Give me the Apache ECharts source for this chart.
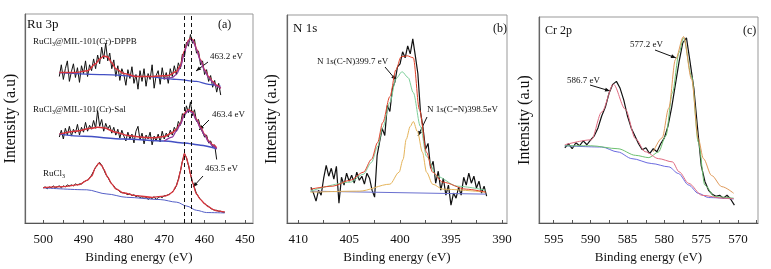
<!DOCTYPE html>
<html>
<head>
<meta charset="utf-8">
<script src="https://cdn.jsdelivr.net/npm/echarts@6/dist/echarts.min.js"></script>
<style>
  html, body { margin: 0; padding: 0; background: #fff; }
  #chart { width: 771px; height: 269px; }
</style>
</head>
<body>
<div id="chart"></div>
<script>
// ---- (a) Ru 3p ----
var ruE = [496, 495.5, 495, 494.5, 494, 493.5, 493, 492.5, 492, 491.5,
  491, 490.5, 490, 489.5, 489, 488.5, 488, 487.5, 487, 486.5,
  486, 485.5, 485, 484.5, 484, 483.5, 483, 482.5, 482, 481.5,
  481, 480.5, 480, 479.5, 479, 478.5, 478, 477.5, 477, 476.5,
  476, 475.5, 475, 474.5, 474, 473.5, 473, 472.5, 472, 471.5,
  471, 470.5, 470, 469.5, 469, 468.5, 468, 467.5, 467, 466.5,
  466, 465.5, 465, 464.5, 464, 463.5, 463, 462.5, 462, 461.5,
  461, 460.5, 460, 459.5, 459, 458.5, 458, 457.5, 457, 456.5,
  456]
var dppbRaw = [150, 162, 147, 158, 166, 145, 155, 163, 149, 159,
  144, 161, 153, 166, 150, 162, 156, 168, 158, 172,
  163, 180, 168, 184, 166, 174, 158, 167, 150, 161,
  146, 158, 152, 141, 157, 148, 160, 143, 152, 137,
  156, 145, 158, 140, 153, 147, 162, 138, 151, 156,
  142, 159, 147, 154, 143, 158, 150, 161, 152, 164,
  158, 173, 170, 185, 181, 193, 184, 188, 174, 176,
  162, 166, 152, 157, 145, 151, 139, 146, 134, 143,
  131]
var dppbFitE = [496, 492, 489, 487, 486, 485, 484, 483, 482, 480, 477, 473, 469, 467, 466, 465, 464.5, 464, 463.5, 463, 462.5, 462, 461, 460, 459, 458, 457, 456]
var dppbFit = [154, 154, 156, 163, 168, 171, 170, 164, 158, 153, 150, 150, 151, 155, 161, 176, 182, 187, 189, 188, 184, 178, 167, 157, 150, 145, 141, 138]
var dppbPeakE = [470, 468, 467, 466, 465, 464.5, 464, 463.5, 463, 462.5, 462, 461, 460, 459, 458, 457, 456]
var dppbPeak = [148, 149, 152, 159, 174, 181, 186, 188, 187, 183, 177, 166, 156, 149, 144, 140, 138]
var dppbBaseE = [496, 485, 475, 467, 462, 459, 456]
var dppbBase = [154, 152, 150, 147, 145, 142, 140]

var salRaw = [88, 95, 86, 97, 90, 99, 89, 96, 92, 101,
  90, 98, 93, 103, 94, 100, 96, 105, 97, 115,
  99, 106, 94, 102, 96, 100, 92, 98, 90, 96,
  87, 95, 89, 84, 93, 86, 91, 82, 94, 99,
  85, 92, 81, 90, 86, 93, 80, 89, 84, 91,
  83, 94, 86, 92, 88, 95, 90, 98, 94, 104,
  100, 112, 108, 120, 113, 124, 110, 116, 104, 106,
  97, 93, 88, 90, 82, 84, 78, 80, 65]
var salFitE = [496, 492, 488, 486.5, 485, 482, 479, 476, 473, 470, 468, 467, 466, 465, 464, 463, 462, 461, 460, 459, 458, 457]
var salFit = [91, 94, 97, 98, 97.5, 93, 89.5, 88, 87.3, 88.5, 92.5, 96, 102, 112, 116, 114, 106, 98, 91, 84, 80, 77]
var salPeakE = [470, 468, 467, 466, 465, 464, 463, 462, 461, 460, 459, 458, 457]
var salPeak = [84, 88, 94, 101, 111, 115, 113, 105, 97, 90, 83, 79, 76]
var salBaseE = [496, 490, 480, 470, 465, 461, 457]
var salBase = [91, 88.7, 86, 84, 82, 79.7, 76]

var rucl3E = [500, 499.5, 499, 498.5, 498, 497.5, 497, 496.5, 496, 495.5,
  495, 494.5, 494, 493.5, 493, 492.5, 492, 491.5, 491, 490.5,
  490, 489.5, 489, 488.5, 488, 487.5, 487, 486.5, 486, 485.5,
  485, 484.5, 484, 483.5, 483, 482.5, 482, 481.5, 481, 480.5,
  480, 479.5, 479, 478.5, 478, 477.5, 477, 476.5, 476, 475.5,
  475, 474.5, 474, 473.5, 473, 472.5, 472, 471.5, 471, 470.5,
  470, 469.5, 469, 468.5, 468, 467.5, 467, 466.5, 466, 465.5,
  465, 464.5, 464, 463.5, 463, 462.5, 462, 461.5, 461, 460.5,
  460, 459.5, 459, 458.5, 458, 457.5, 457, 456.5, 456, 455.5,
  455]
var rucl3Raw = [36, 37, 35, 37, 36, 38, 36, 37, 38, 36,
  38, 37, 39, 38, 39, 38, 40, 39, 40, 40,
  42, 43, 44, 46, 49, 53, 57, 60, 62, 59,
  55, 50, 47, 43, 40, 38, 35, 34, 32, 31,
  31, 30, 29, 30, 28, 29, 27, 28, 26, 27,
  25, 27, 24, 26, 25, 27, 24, 26, 27, 26,
  28, 28, 29, 30, 32, 34, 38, 45, 53, 63,
  71, 67, 59, 50, 42, 36, 30, 27, 24, 22,
  20, 18, 17, 15, 14, 13, 13, 12, 12, 11,
  11]
var rucl3FitE = [500, 495, 491, 489, 488, 487, 486.2, 485.5, 485, 484, 483, 482, 480, 477, 473, 470, 469, 468, 467, 466.5, 466, 465.5, 465, 464.5, 464, 463.5, 463, 462, 461, 460, 459, 458, 457, 455]
var rucl3Fit = [36.3, 37.3, 39.3, 44, 48, 57, 61.3, 59, 55, 47, 40, 35, 30.7, 28, 26.3, 27.5, 28.7, 31.5, 38, 44, 53, 63, 71, 67, 59.7, 50, 41.3, 29.7, 24, 19.7, 16.5, 14, 12.5, 11.3]
var rucl3BaseE = [500, 489.2, 484.2, 479.3, 471, 466.9, 464.4, 462, 459.5, 455]
var rucl3Base = [36, 34, 29.7, 26.3, 24, 21.3, 17.3, 13, 10.7, 10.3]
var ruPeakLines = [465.0, 463.4]

// ---- (b) N 1s ----
var n1sE = [408.75, 408.5, 408.25, 408, 407.75, 407.5, 407.25, 407, 406.75, 406.5,
  406.25, 406, 405.75, 405.5, 405.25, 405, 404.75, 404.5, 404.25, 404,
  403.75, 403.5, 403.25, 403, 402.75, 402.5, 402.25, 402, 401.75, 401.5,
  401.25, 401, 400.75, 400.5, 400.25, 400, 399.75, 399.5, 399.25, 399,
  398.75, 398.5, 398.25, 398, 397.75, 397.5, 397.25, 397, 396.75, 396.5,
  396.25, 396, 395.75, 395.5, 395.25, 395, 394.75, 394.5, 394.25, 394,
  393.75, 393.5, 393.25, 393, 392.75, 392.5, 392.25, 392, 391.75, 391.5]
var n1sRaw = [36, 30, 22, 33, 28, 45, 58, 47, 55, 44,
  57, 20, 46, 38, 50, 42, 48, 40, 51, 43,
  47, 39, 50, 45, 33, 26, 68, 82, 95, 88,
  118, 112, 135, 142, 157, 160, 172, 166, 178, 170,
  185, 168, 150, 112, 96, 74, 80, 55, 62, 40,
  52, 33, 45, 28, 38, 18, 30, 25, 36, 28,
  46, 38, 50, 40, 47, 35, 42, 30, 37, 27]
var n1sFitE = [408.8, 406.6, 404.9, 403.6, 402.8, 402.2, 401.7, 401, 400.4, 399.9, 399.3, 398.7, 398.1, 397.4, 396.8, 395.8, 393.5, 391.6]
var n1sFit = [34, 37, 43, 51, 64, 81, 101, 127, 154, 167, 168, 166, 114, 71, 51, 41, 34, 31]
var cnE = [408.8, 404.9, 403.6, 402.8, 402.2, 401.7, 401, 400.4, 399.8, 399.2, 398.7, 398, 397.4, 396.4, 394.4, 391.6]
var cnFit = [32, 41, 49, 61, 77, 96, 121, 145, 152, 146, 131, 97, 67, 47, 37, 33]
var cdnE = [408.8, 404, 401.0, 400.1, 399.7, 399.4, 399.0, 398.7, 398.3, 397.8, 397.4, 396.8, 395.8, 391.6]
var cdnFit = [31, 32, 39, 51, 64, 84, 97, 102, 92, 71, 51, 39, 34, 31]
var n1sBaseE = [408.8, 391.6]
var n1sBase = [32, 29]

// ---- (c) Cr 2p ----
var crE = [593.5, 593, 592.5, 592, 591.5, 591, 590.5, 590, 589.5, 589,
  588.5, 588, 587.5, 587, 586.5, 586, 585.5, 585, 584.5, 584,
  583.5, 583, 582.5, 582, 581.5, 581, 580.5, 580, 579.5, 579,
  578.5, 578, 577.5, 577, 576.5, 576, 575.5, 575, 574.5, 574,
  573.5, 573, 572.5, 572, 571.5, 571, 570.5]
var crRaw = [76, 80, 75, 81, 78, 83, 79, 84, 88, 96,
  108, 117, 131, 140, 143, 136, 124, 108, 96, 88,
  80, 74, 76, 70, 75, 72, 80, 86, 98, 117,
  140, 163, 182, 187, 162, 136, 96, 58, 42, 33,
  29, 27, 28, 25, 28, 24, 18]
var crBaseE = [593.5, 588.5, 586.3, 584.4, 581.7, 579.4, 578.1, 576.7, 575.4, 574, 570.6]
var crBase = [78, 76.7, 71.7, 65, 60, 56.7, 50, 38.3, 30, 25.7, 24.3]
var cr2E = [593.5, 590, 586.3, 583.9, 582.1, 580.8, 579.8, 578.9, 578, 577.4, 576.3, 575.4, 574.5, 573.2, 570.6]
var cr2Fit = [78, 78, 75, 68.3, 66, 71.7, 88, 131.7, 172, 187, 148, 81.7, 38.3, 26.7, 25]
var cr1E = [593.5, 589.9, 588.5, 586.9, 585.3, 583.9, 582.6, 580.8, 578.9, 578, 576.7, 574.9, 572, 570.6]
var cr1Fit = [79, 84, 112, 140, 115, 85, 72, 65, 61.7, 51.7, 40, 28, 25, 24.5]
var crSumE = [581.5, 580.3, 579.4, 578.5, 577.4, 576.3, 575.4, 574.7, 573.6, 572.2, 570.6]
var crSum = [72, 86, 116, 165, 188.3, 145, 85, 65, 48, 36.7, 30]

var FONT = 'Liberation Serif'

// build [x, y] pairs, ascending in x so smoothing behaves
function pairs(xs, ys) {
  return ys.map(function (v, i) { return [xs[i], v] })
    .sort(function (a, b) { return a[0] - b[0] })
}
function curve(idx, xs, ys, color, smooth, width) {
  var s = {
    type: 'line',
    xAxisIndex: idx,
    yAxisIndex: idx,
    data: pairs(xs, ys),
    symbol: 'none',
    smooth: smooth ? 0.3 : false,
    lineStyle: { color: color, width: width || 1 },
    silent: true
  }
  if (smooth) s.smoothMonotone = 'x'
  return s
}
function arrow(x1, y1, x2, y2) {
  var a = Math.atan2(y2 - y1, x2 - x1), L = 5, W = 2
  var p1 = [x2 - L * Math.cos(a) + W * Math.sin(a), y2 - L * Math.sin(a) - W * Math.cos(a)]
  var p2 = [x2 - L * Math.cos(a) - W * Math.sin(a), y2 - L * Math.sin(a) + W * Math.cos(a)]
  return [
    { type: 'line', shape: { x1: x1, y1: y1, x2: x2, y2: y2 }, style: { stroke: '#111', lineWidth: 1 } },
    { type: 'polygon', shape: { points: [[x2, y2], p1, p2] }, style: { fill: '#111' } }
  ]
}
function label(x, y, text, size, align) {
  return {
    type: 'text',
    style: {
      x: x, y: y, text: text, fill: '#111',
      font: size + 'px "' + FONT + '"',
      align: align || 'left', verticalAlign: 'middle',
      rich: {
        t: { fontFamily: FONT, fontSize: size, fill: '#111' },
        s: { fontFamily: FONT, fontSize: size - 3, fill: '#111', padding: [4, 0, 0, 0] }
      }
    }
  }
}

function ticks(a, b, step) {
  var out = []
  for (var v = a; v <= b + 1e-6; v += step) out.push(v)
  return out
}
function xAxis(idx, min, max, labels, tickVals) {
  return {
    type: 'value', gridIndex: idx, inverse: true, min: min, max: max,
    name: 'Binding energy (eV)', nameLocation: 'middle', nameGap: 28,
    nameTextStyle: { fontFamily: FONT, fontSize: 13, color: '#111' },
    axisLine: { lineStyle: { color: '#555', width: 1.2 } },
    axisTick: { show: true, inside: true, length: 3, customValues: tickVals, lineStyle: { color: '#555' } },
    axisLabel: { customValues: labels, fontFamily: FONT, fontSize: 13, color: '#111', margin: 10 },
    splitLine: { show: false }
  }
}
function yAxis(idx, max, gap) {
  return {
    type: 'value', gridIndex: idx, min: 0, max: max,
    name: 'Intensity (a.u)', nameLocation: 'middle', nameGap: gap,
    nameTextStyle: { fontFamily: FONT, fontSize: 16, color: '#111' },
    axisLine: { show: true, lineStyle: { color: '#666', width: 1.2 } },
    axisTick: { show: false },
    axisLabel: { show: false },
    splitLine: { show: false }
  }
}

var chart = echarts.init(document.getElementById('chart'), null, { renderer: 'canvas' })

var red = '#d8343c', blue = '#4350c4', purple = '#8c3a9e'
var dashed = curve(0, rucl3E, rucl3Raw, '#111', false)
dashed.markLine = {
  silent: true, symbol: 'none', label: { show: false },
  lineStyle: { color: '#111', type: [4, 3], width: 1 },
  data: ruPeakLines.map(function (v) { return { xAxis: v } })
}

var graphic = [
  label(27, 25, 'Ru 3p', 13),
  label(218, 25, '(a)', 12),
  label(33, 42, '{t|RuCl}{s|3}{t|@MIL-101(Cr)-DPPB}', 9),
  label(210, 57, '463.2 eV', 9),
  label(33, 110, '{t|RuCl}{s|3}{t|@MIL-101(Cr)-Sal}', 9),
  label(212, 115, '463.4 eV', 9),
  label(43, 174, '{t|RuCl}{s|3}', 9),
  label(205, 169, '463.5 eV', 9),
  label(293, 29, 'N 1s', 13),
  label(493, 29, '(b)', 12),
  label(317, 62, 'N 1s(C-N)399.7 eV', 9),
  label(427, 110, 'N 1s(C=N)398.5eV', 9),
  label(545, 31, 'Cr 2p', 12),
  label(743, 31, '(c)', 12),
  label(630, 45, '577.2 eV', 9),
  label(567, 81, '586.7 eV', 9)
]
graphic = graphic
  .concat(arrow(208, 62, 196, 71))
  .concat(arrow(209, 120, 199, 130))
  .concat(arrow(203, 176, 193, 187))
  .concat(arrow(385, 67, 396, 80))
  .concat(arrow(427, 117, 418, 136))
  .concat(arrow(655, 50, 676, 58))
  .concat(arrow(590, 85, 610, 91))

var option = {
  animation: false,
  backgroundColor: '#fff',
  grid: [
    { left: 25, top: 14, width: 228, height: 214, show: true, borderColor: '#999', borderWidth: 1 },
    { left: 287, top: 15, width: 220, height: 209, show: true, borderColor: '#999', borderWidth: 1 },
    { left: 539, top: 17, width: 219, height: 208, show: true, borderColor: '#999', borderWidth: 1 }
  ],
  xAxis: [
    xAxis(0, 448, 504.5, ticks(450, 500, 10), ticks(450, 500, 5)),
    xAxis(1, 389.5, 411.1, ticks(390, 410, 5), ticks(390, 410, 2.5)),
    xAxis(2, 567.3, 597, ticks(570, 595, 5), ticks(567.5, 595, 2.5))
  ],
  yAxis: [yAxis(0, 214, 6), yAxis(1, 209, 7), yAxis(2, 208, 6)],
  graphic: graphic,
  series: [
    curve(0, ruE, dppbRaw, '#111', false),
    curve(0, dppbBaseE, dppbBase, blue, true, 1.2),
    curve(0, dppbFitE, dppbFit, red, true, 1.5),
    curve(0, dppbPeakE, dppbPeak, purple, true, 1.2),
    curve(0, ruE, salRaw, '#111', false),
    curve(0, salBaseE, salBase, blue, true, 1.5),
    curve(0, salFitE, salFit, red, true, 1.5),
    curve(0, salPeakE, salPeak, purple, true, 1.2),
    dashed,
    curve(0, rucl3BaseE, rucl3Base, '#5560c8', true, 1),
    curve(0, rucl3FitE, rucl3Fit, red, true, 1.3),

    curve(1, n1sE, n1sRaw, '#111', false, 1.2),
    curve(1, n1sBaseE, n1sBase, '#6a70d0', false, 1),
    curve(1, cdnE, cdnFit, '#e5b45a', true, 1),
    curve(1, cnE, cnFit, '#7ccf9a', true, 1),
    curve(1, n1sFitE, n1sFit, '#e0452c', true, 1),

    curve(2, crE, crRaw, '#111', false, 1.2),
    curve(2, crBaseE, crBase, '#6b6be0', true, 1),
    curve(2, cr2E, cr2Fit, '#6cc070', true, 1),
    curve(2, cr1E, cr1Fit, '#e06a80', true, 1),
    curve(2, crSumE, crSum, '#e09a5a', true, 1)
  ]
}
chart.setOption(option)
</script>
</body>
</html>
